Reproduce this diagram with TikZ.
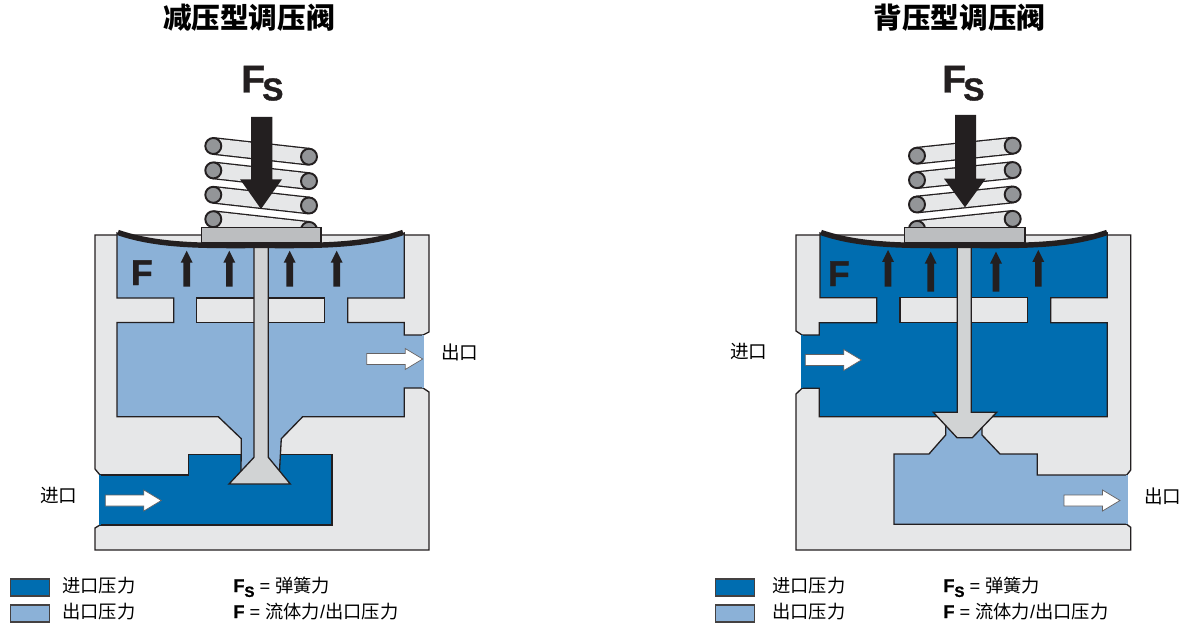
\documentclass[tikz,border=0pt]{standalone}
\usepackage{fontspec}
\setmainfont{Liberation Sans}[BoldFeatures={FakeBold=1.2}]
\newfontfamily\cjk{Noto Sans CJK SC}
\definecolor{bodygray}{HTML}{E6E7E8}
\definecolor{stemgray}{HTML}{D1D3D4}
\definecolor{plategray}{HTML}{BCBEC0}
\definecolor{coilgray}{HTML}{939598}
\definecolor{inblue}{HTML}{006DB0}
\definecolor{outblue}{HTML}{8BB1D7}
\definecolor{inkblack}{HTML}{231F20}
\tikzset{
  wall/.style={draw=inkblack,line width=.75pt,line join=miter},
  part/.style={wall,fill=bodygray},
  stempart/.style={wall,fill=stemgray},
  inlet/.style={wall,fill=inblue},
  outlet/.style={wall,fill=outblue},
  coilbar/.style={draw=inkblack,line width=.75pt,double=bodygray,double distance=8.6pt},
  coilend/.style={wall,line width=1.1pt,fill=coilgray},
  plate/.style={wall,fill=plategray},
  diaphragm/.style={draw=inkblack,line width=3.1pt},
  force/.style={fill=inkblack},
  flow/.style={draw=inkblack!70,line width=.4pt,fill=white},
  title/.style={font=\cjk\bfseries\fontsize{16.3}{18}\selectfont,inner sep=0pt},
  portlabel/.style={font=\cjk\fontsize{10.6}{12}\selectfont,inner sep=0pt},
  legendlabel/.style={font=\cjk\fontsize{10.4}{12}\selectfont,inner sep=0pt,anchor=west},
  legendtext/.style={font=\fontsize{10.4}{12}\selectfont,anchor=base west,inner sep=0pt},
  bigletter/.style={font=\bfseries\fontsize{20.4}{22}\selectfont,anchor=base west,inner sep=0pt,text=inkblack},
  springforce/.style={font=\bfseries\fontsize{22}{24}\selectfont,anchor=base west,inner sep=0pt,text=inkblack},
  swatch/.style={draw=inkblack!85,line width=1pt,minimum width=.78cm,minimum height=.34cm,inner sep=0pt}
}
\newcommand{\flowarrow}[2]{\draw[flow] (#1,#2-5.5) -- ++(38.5,0) -- ++(0,-5) -- ++(17.5,10.5) -- ++(-17.5,10.5) -- ++(0,-5) -- ++(-38.5,0) -- cycle;}
\newcommand{\fluidarrow}[3]{\fill[force] (#1-3.3,#3) -- (#1-3.3,#2+12) -- (#1-6,#2+12) -- (#1,#2) -- (#1+6,#2+12) -- (#1+3.3,#2+12) -- (#1+3.3,#3) -- cycle;}
\newcommand{\fslabel}{F\raisebox{-2.8pt}{\fontsize{8.5}{10}\selectfont S}}
\newcommand{\fsbig}{F\kern-1.5pt\raisebox{-4.5pt}{\fontsize{18}{20}\selectfont S}}
\begin{document}
\begin{tikzpicture}[x=0.02cm,y=-0.02cm]
  \useasboundingbox (0,0) rectangle (1188,625);
  \node[title] (titleL) at (249,18) {减压型调压阀};
  \node[title] (titleR) at (959.5,18) {背压型调压阀};

  % left valve
  \fill[bodygray] (423,335) -- (429,332) -- (429,235) -- (95,235) -- (95,469) -- (100,475) -- (100,525) -- (95,528) -- (95,550) -- (429,550) -- (429,392) -- (423,388) -- cycle;
  \draw[wall] (423,335) -- (429,332) -- (429,235) -- (95,235) -- (95,469) -- (100,475);
  \draw[wall] (100,525) -- (95,528) -- (95,550) -- (429,550) -- (429,392) -- (423,388);
  \draw[inlet] (100,475) -- (188.3,475) -- (188.3,454.3) -- (332,454.3) -- (332,525) -- (100,525) -- cycle;
  \draw[inblue,line width=1pt] (100,475.4) -- (100,524.6);
  \draw[outlet] (117,233) -- (117,298) -- (173.7,298) -- (173.7,322.5) -- (117,322.5) -- (117,416.7) -- (218.3,416.7) -- (241.3,438.7) -- (241,471) -- (279.5,471) -- (281.3,438.7) -- (302.7,416.7) -- (404.3,416.7) -- (404.3,388) -- (423,388) -- (423,335) -- (404.3,335) -- (404.3,322.5) -- (347.7,322.5) -- (347.7,298) -- (404.3,298) -- (404.3,233) .. controls (361,247) and (310,245.5) .. (260,245.5) .. controls (210,245.5) and (160,247) .. (117,233) -- cycle;
  \draw[outblue,line width=1pt] (423,335.4) -- (423,387.6);
  \draw[part] (196.7,298) rectangle (324.7,322.5);
  \draw[stempart] (254,246) -- (254,457.3) -- (229,484) -- (290.3,484) -- (268.3,457.3) -- (268.3,246);
  \foreach \n in {0,1,2,3} {
    \coordinate (coilLa\n) at (213.3,146+24.4*\n);
    \coordinate (coilLb\n) at (309,156.7+24.4*\n);
    \draw[coilbar] (coilLa\n) -- (coilLb\n);
    \draw[coilend] (coilLa\n) circle (8);
    \draw[coilend] (coilLb\n) circle (8);
  }
  \draw[plate] (201.7,227.3) rectangle (321,242.7);
  \draw[diaphragm] (118,232.5) .. controls (160,247) and (210,245.5) .. (260,245.5) .. controls (310,245.5) and (361,247) .. (403,232.5);
  \fill[force] (251,117) -- (272.3,117) -- (272.3,179.3) -- (282,179.3) -- (261,209) -- (240,179.3) -- (251,179.3) -- cycle;
  \foreach \x in {186.7,229.3,289.7,336.7} {\fluidarrow{\x}{250.7}{286.7}}
  \flowarrow{366.7}{359}
  \flowarrow{105.3}{500.5}
  \node[springforce] (fsL) at (241,92.5) {\fsbig};
  \node[bigletter] (fL) at (130.5,285) {F};
  \node[portlabel,anchor=west] (outL) at (441,352) {出口};
  \node[portlabel,anchor=west] (inL) at (40,495) {进口};

  % right valve
  \fill[bodygray] (802,335) -- (796,331) -- (796,235) -- (1130.7,235) -- (1130.7,470) -- (1126.7,475) -- (1126.7,524.3) -- (1130.7,527.3) -- (1130.7,550) -- (796,550) -- (796,394) -- (802,388.3) -- cycle;
  \draw[wall] (802,335) -- (796,331) -- (796,235) -- (1130.7,235) -- (1130.7,470) -- (1126.7,475);
  \draw[wall] (1126.7,524.3) -- (1130.7,527.3) -- (1130.7,550) -- (796,550) -- (796,394) -- (802,388.3);
  \draw[outlet] (945.7,425) -- (945.7,435) -- (929,454) -- (894,454) -- (894,524.3) -- (1126.7,524.3) -- (1126.7,475) -- (1037.3,475) -- (1037.3,454) -- (1000,454) -- (982,435) -- (982,425) -- cycle;
  \draw[outblue,line width=1pt] (1126.7,475.4) -- (1126.7,523.9);
  \draw[inlet] (820,233) -- (820,297.7) -- (876.7,297.7) -- (876.7,322.7) -- (819.3,322.7) -- (819.3,335) -- (802,335) -- (802,388.3) -- (819.3,388.3) -- (819.3,416.7) -- (1107.3,416.7) -- (1107.3,322.7) -- (1050.7,322.7) -- (1050.7,297.7) -- (1107.3,297.7) -- (1107.3,233) .. controls (1065,247) and (1017,245.5) .. (965,245.5) .. controls (913,245.5) and (863,247) .. (820,233) -- cycle;
  \draw[inblue,line width=1pt] (802,335.4) -- (802,387.9);
  \draw[part] (900,297.7) rectangle (1027.7,322.7);
  \draw[stempart] (957.3,246) -- (957.3,412.3) -- (933.3,412.3) -- (957,437.7) -- (972.3,437.7) -- (996.7,412.3) -- (971.3,412.3) -- (971.3,246);
  \foreach \n in {0,1,2,3} {
    \coordinate (coilRa\n) at (917,155.7+24.4*\n);
    \coordinate (coilRb\n) at (1012.7,145.7+24.4*\n);
    \draw[coilbar] (coilRa\n) -- (coilRb\n);
    \draw[coilend] (coilRa\n) circle (8);
    \draw[coilend] (coilRb\n) circle (8);
  }
  \draw[plate] (904.3,227.3) rectangle (1025,242.7);
  \draw[diaphragm] (821,232.5) .. controls (863,247) and (913,245.5) .. (965,245.5) .. controls (1017,245.5) and (1065,247) .. (1107,232.5);
  \fill[force] (955,115) -- (976,115) -- (976,178.7) -- (985.7,178.7) -- (965,207.3) -- (944,178.7) -- (955,178.7) -- cycle;
  \fluidarrow{888}{250}{286.7}
  \fluidarrow{930.7}{251.7}{291.7}
  \fluidarrow{996}{251.7}{291.7}
  \fluidarrow{1038.3}{250}{286.7}
  \flowarrow{805.3}{360}
  \flowarrow{1064}{500.5}
  \node[springforce] (fsR) at (942,92.5) {\fsbig};
  \node[bigletter] (fR) at (827.5,286) {F};
  \node[portlabel,anchor=west] (inR) at (730,351) {进口};
  \node[portlabel,anchor=west] (outR) at (1144,496) {出口};

  % legends
  \node[swatch,fill=inblue] (swInL) at (30,587.8) {};
  \node[swatch,fill=outblue] (swOutL) at (30,613.6) {};
  \node[legendlabel] (txtInL) at (62,586) {进口压力};
  \node[legendlabel] (txtOutL) at (62,612) {出口压力};
  \node[legendtext] (txtFsL) at (233,592) {\textbf{\fslabel} = {\cjk 弹簧力}};
  \node[legendtext] (txtFL) at (233,618) {\textbf{F} = {\cjk 流体力}/{\cjk 出口压力}};
  \node[swatch,fill=inblue] (swInR) at (735,587.8) {};
  \node[swatch,fill=outblue] (swOutR) at (735,613.6) {};
  \node[legendlabel] (txtInR) at (772,586) {进口压力};
  \node[legendlabel] (txtOutR) at (772,612) {出口压力};
  \node[legendtext] (txtFsR) at (943,592) {\textbf{\fslabel} = {\cjk 弹簧力}};
  \node[legendtext] (txtFR) at (943,618) {\textbf{F} = {\cjk 流体力}/{\cjk 出口压力}};
\end{tikzpicture}
\end{document}
